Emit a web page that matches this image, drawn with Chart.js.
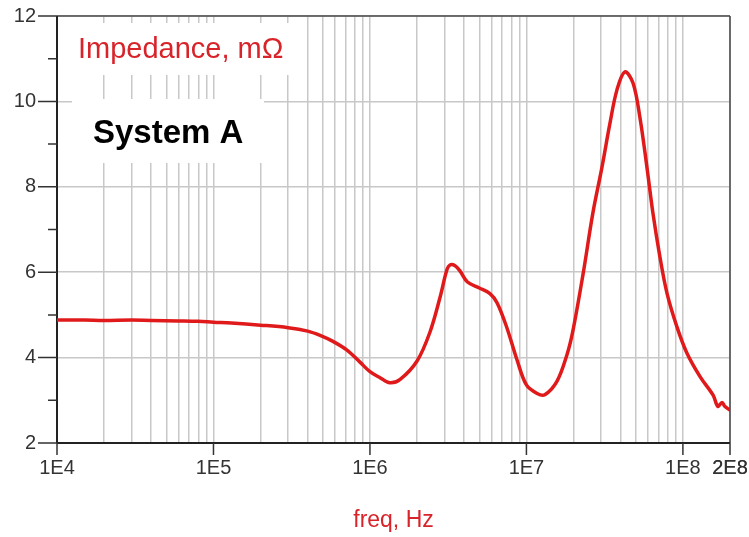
<!DOCTYPE html>
<html><head><meta charset="utf-8">
<script src="https://cdn.jsdelivr.net/npm/chart.js@4.4.1/dist/chart.umd.min.js"></script>
<style>html,body{margin:0;padding:0;background:#fff;overflow:hidden}</style>
</head><body>
<canvas id="c" width="749" height="537"></canvas>
<script>
// ---- data ----
const freqHz = [1e4, 1.5e4, 2e4, 3e4, 4e4, 6e4, 8e4, 1.0e5, 1.3e5, 2.0e5, 3.0e5, 4.0e5, 4.8e5, 5.8e5, 7.1e5, 8.6e5,
  1.0e6, 1.16e6, 1.34e6, 1.56e6, 2.0e6, 2.42e6, 2.8e6, 3.1e6, 3.25e6, 3.5e6, 3.76e6, 4.2e6, 5.0e6, 5.85e6, 6.5e6,
  7.5e6, 8.7e6, 1.0e7, 1.17e7, 1.31e7, 1.57e7, 1.82e7, 1.98e7, 2.3e7, 2.66e7, 3.04e7, 3.42e7, 3.79e7, 4.26e7,
  4.8e7, 5.31e7, 5.89e7, 6.43e7, 7.13e7, 7.91e7, 9.16e7, 1.06e8, 1.29e8, 1.56e8, 1.67e8, 1.78e8, 1.85e8, 2.0e8];
const impedanceMOhm = [4.88, 4.88, 4.87, 4.88, 4.87, 4.86, 4.85, 4.83, 4.81, 4.76, 4.70, 4.62, 4.52, 4.38, 4.18, 3.90,
  3.67, 3.53, 3.41, 3.49, 3.92, 4.60, 5.40, 6.05, 6.17, 6.15, 6.03, 5.77, 5.63, 5.50, 5.28,
  4.70, 3.95, 3.36, 3.16, 3.13, 3.45, 4.08, 4.62, 5.95, 7.39, 8.46, 9.49, 10.27, 10.69,
  10.43, 9.63, 8.46, 7.39, 6.36, 5.51, 4.72, 4.11, 3.55, 3.12, 2.86, 2.95, 2.86, 2.77];
const xMajorTicks = [1e4, 1e5, 1e6, 1e7, 1e8, 2e8];
const xTickLabels = ['1E4', '1E5', '1E6', '1E7', '1E8', '2E8'];
const gridMultipliers = [1, 2, 3, 4, 5, 6, 7, 8, 9];
const decades = [1e4, 1e5, 1e6, 1e7, 1e8];
const yMajorTicks = [2, 4, 6, 8, 10, 12];
const yMinorTicks = [3, 5, 7, 9, 11];
const seriesLabel = 'Impedance, mΩ';
const panelLabel = 'System A';
const xTitle = 'freq, Hz';

const X_MIN = 1e4, X_MAX = 2e8;
const RED = '#e01a1a';
const TXT_RED = '#d8232a';
const FONT = '"Liberation Sans", Arial, sans-serif';

const gridValues = [];
decades.forEach(d => gridMultipliers.forEach(m => { if (d * m <= X_MAX) gridValues.push(d * m); }));
gridValues.push(X_MAX);

function labelFor(v) {
  const i = xMajorTicks.findIndex(t => Math.abs(t - v) / t < 1e-9);
  return i >= 0 ? xTickLabels[i] : '';
}

const decor = {
  id: 'decor',
  beforeDatasetsDraw(chart) {
    const { ctx, chartArea: a, scales: { x, y } } = chart;
    ctx.save();
    // white label backgrounds
    ctx.fillStyle = '#ffffff';
    ctx.fillRect(a.left + 2, 23, 241, 52);
    ctx.fillRect(72, 99, 192, 64);
    // labels
    ctx.fillStyle = TXT_RED;
    ctx.font = '29px ' + FONT;
    ctx.textAlign = 'left';
    ctx.textBaseline = 'alphabetic';
    ctx.fillText(seriesLabel, 78, 58);
    ctx.fillStyle = '#000';
    ctx.font = 'bold 33px ' + FONT;
    ctx.fillText(panelLabel, 93, 143);
    // frame
    ctx.lineCap = 'butt';
    ctx.strokeStyle = '#4a4a4a';
    ctx.lineWidth = 1.5;
    ctx.beginPath();
    ctx.moveTo(a.left, a.top); ctx.lineTo(a.right, a.top);
    ctx.moveTo(a.right, a.top); ctx.lineTo(a.right, a.bottom);
    ctx.stroke();
    ctx.strokeStyle = '#222';
    ctx.lineWidth = 2;
    ctx.beginPath();
    ctx.moveTo(a.left, a.top); ctx.lineTo(a.left, a.bottom);
    ctx.moveTo(a.left, a.bottom); ctx.lineTo(a.right, a.bottom);
    ctx.stroke();
    // tick marks
    ctx.strokeStyle = '#333';
    ctx.lineWidth = 1.5;
    ctx.beginPath();
    yMajorTicks.forEach(v => { const p = y.getPixelForValue(v); ctx.moveTo(a.left - 19, p); ctx.lineTo(a.left, p); });
    yMinorTicks.forEach(v => { const p = y.getPixelForValue(v); ctx.moveTo(a.left - 9, p); ctx.lineTo(a.left, p); });
    xMajorTicks.forEach(v => { const p = x.getPixelForValue(v); ctx.moveTo(p, a.bottom); ctx.lineTo(p, a.bottom + 12); });
    ctx.stroke();
    ctx.restore();
  }
};

new Chart(document.getElementById('c'), {
  type: 'line',
  data: {
    datasets: [{
      label: seriesLabel,
      data: freqHz.map((f, i) => ({ x: f, y: impedanceMOhm[i] })),
      borderColor: RED,
      borderWidth: 3.5,
      pointRadius: 0,
      fill: false,
      tension: 0.35,
      borderJoinStyle: 'round',
      borderCapStyle: 'round'
    }]
  },
  options: {
    responsive: false,
    animation: false,
    devicePixelRatio: 1,
    layout: { padding: { top: 16, right: 19, left: 0, bottom: 0 } },
    plugins: { legend: { display: false }, tooltip: { enabled: false } },
    scales: {
      x: {
        type: 'logarithmic',
        min: X_MIN, max: X_MAX,
        afterBuildTicks: s => { s.ticks = gridValues.map(v => ({ value: v })); },
        afterFit: s => { s.height = 94; s.paddingLeft = 0; s.paddingRight = 0; },
        border: { display: false },
        grid: { color: '#c8c8c8', lineWidth: 1.5, drawTicks: false },
        ticks: {
          autoSkip: false, maxRotation: 0, minRotation: 0, padding: 13,
          color: '#333', font: { family: FONT, size: 20 },
          callback: v => labelFor(v)
        },
        title: {
          display: true, text: xTitle, color: TXT_RED,
          font: { family: FONT, size: 23 }, padding: { top: 0, bottom: 3 }
        }
      },
      y: {
        type: 'linear',
        min: 2, max: 12,
        afterBuildTicks: s => { s.ticks = yMajorTicks.map(v => ({ value: v })); },
        afterFit: s => { s.width = 57; s.paddingTop = 0; s.paddingBottom = 0; },
        border: { display: false },
        grid: { color: '#c8c8c8', lineWidth: 1.5, drawTicks: false },
        ticks: { padding: 21, color: '#333', font: { family: FONT, size: 20 } }
      }
    }
  },
  plugins: [decor]
});
</script>
</body></html>
